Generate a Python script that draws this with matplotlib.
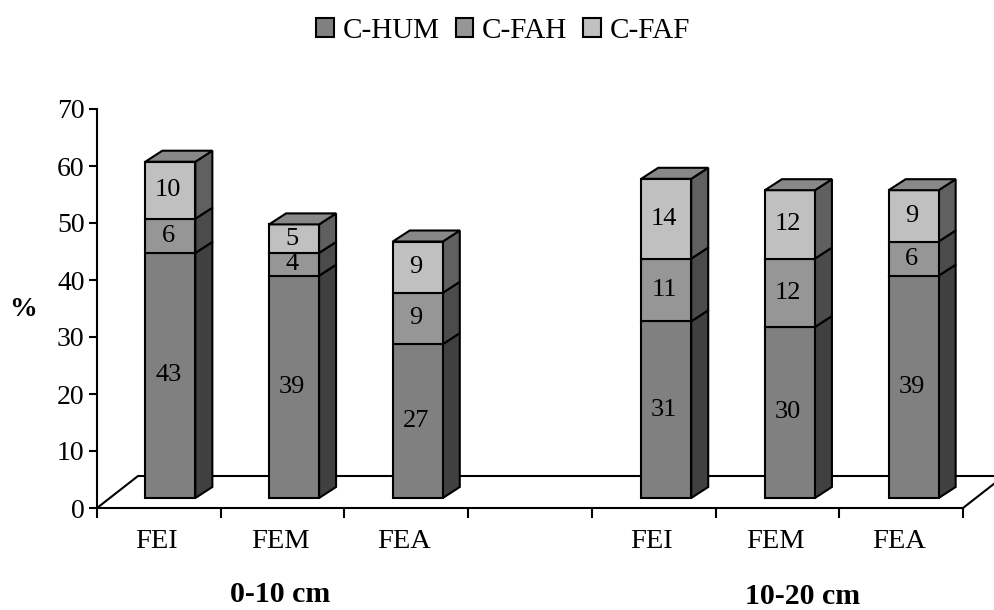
import matplotlib
matplotlib.use("Agg")
import matplotlib.pyplot as plt
from matplotlib.patches import Polygon, Patch

plt.rcParams['font.family'] = ['Liberation Serif', 'DejaVu Serif']

# one blank slot between the two depth groups
categories = ['FEI', 'FEM', 'FEA', '', 'FEI', 'FEM', 'FEA']
c_hum = [43, 39, 27, None, 31, 30, 39]
c_fah = [6, 4, 9, None, 11, 12, 6]
c_faf = [10, 5, 9, None, 14, 12, 9]
series_names = ['C-HUM', 'C-FAH', 'C-FAF']
yticks = [0, 10, 20, 30, 40, 50, 60, 70]

W, H = 994, 610
L, R, T, B = 97, 963, 109, 508
fig = plt.figure(figsize=(W/100, H/100), dpi=100)
ax = fig.add_axes([L/W, 1-B/H, (R-L)/W, (B-T)/H])
ax.set_xlim(0, 7)
ax.set_ylim(0, 70)

front = ['#808080', '#969696', '#c0c0c0']
side = ['#404040', '#4b4b4b', '#606060']
top_col = '#888888'

# pixel sizes turned into data units
px_x = 7 / (R-L)
px_y = 70 / (B-T)
bw = 50 * px_x
dx = 17 * px_x
dy = 11 * px_y
y0 = 10 * px_y
shift = 11.5 * px_x
lw = 1.5

# floor of the 3d box
ax.plot([0, 41*px_x, 7+41*px_x], [0, 32*px_y, 32*px_y], color='k', lw=lw, clip_on=False, zorder=1)
ax.plot([7, 7+41*px_x], [0, 32*px_y], color='k', lw=lw, clip_on=False, zorder=1)

for i in range(len(categories)):
    if c_hum[i] is None:
        continue
    x1 = i + 0.5 + shift - bw/2
    if i > 3:
        x1 += 1 * px_x
    x2 = x1 + bw
    base = y0
    for j, vals in enumerate([c_hum, c_fah, c_faf]):
        top = base + vals[i]
        ax.add_patch(Polygon([(x2, base), (x2+dx, base+dy), (x2+dx, top+dy), (x2, top)],
                             fc=side[j], ec='k', lw=lw, zorder=2+j))
        ax.add_patch(Polygon([(x1, base), (x2, base), (x2, top), (x1, top)],
                             fc=front[j], ec='k', lw=lw, zorder=2+j))
        ax.text((x1+x2)/2 - 2*px_x, (base+top)/2, str(vals[i]), ha='center', va='center',
                fontsize=19, zorder=6)
        base = top
    ax.add_patch(Polygon([(x1, base), (x2, base), (x2+dx, base+dy), (x1+dx, base+dy)],
                         fc=top_col, ec='k', lw=lw, zorder=5))

for s in ['top', 'right']:
    ax.spines[s].set_visible(False)
for s in ['left', 'bottom']:
    ax.spines[s].set_linewidth(lw)
ax.patch.set_alpha(0)

ax.set_yticks(yticks)
ax.tick_params(axis='y', labelsize=20, length=6, width=lw, pad=3)
ax.set_xticks(range(8))
ax.set_xticklabels([])
ax.tick_params(axis='x', length=7, width=lw)

for i, c in enumerate(categories):
    if c:
        ax.text(i + 0.5 - 2*px_x, -33*px_y, c, ha='center', va='center', fontsize=20.5)

fig.text(23/W, 1-310/H, '%', ha='center', va='center', fontsize=20, fontweight='bold')
fig.text(280/W, 1-594/H, '0-10 cm', ha='center', va='center', fontsize=21.5, fontweight='bold')
fig.text(803/W, 1-597/H, '10-20 cm', ha='center', va='center', fontsize=21.5, fontweight='bold')

handles = [Patch(fc=c, ec='k', lw=1.5) for c in front]
fig.legend(handles, series_names, loc='center', bbox_to_anchor=(503/W, 1-31/H), ncol=3, frameon=False,
           fontsize=21, handlelength=0.6, handleheight=0.6, handletextpad=0.3, columnspacing=0.55)

fig.savefig('out.png', dpi=100)
